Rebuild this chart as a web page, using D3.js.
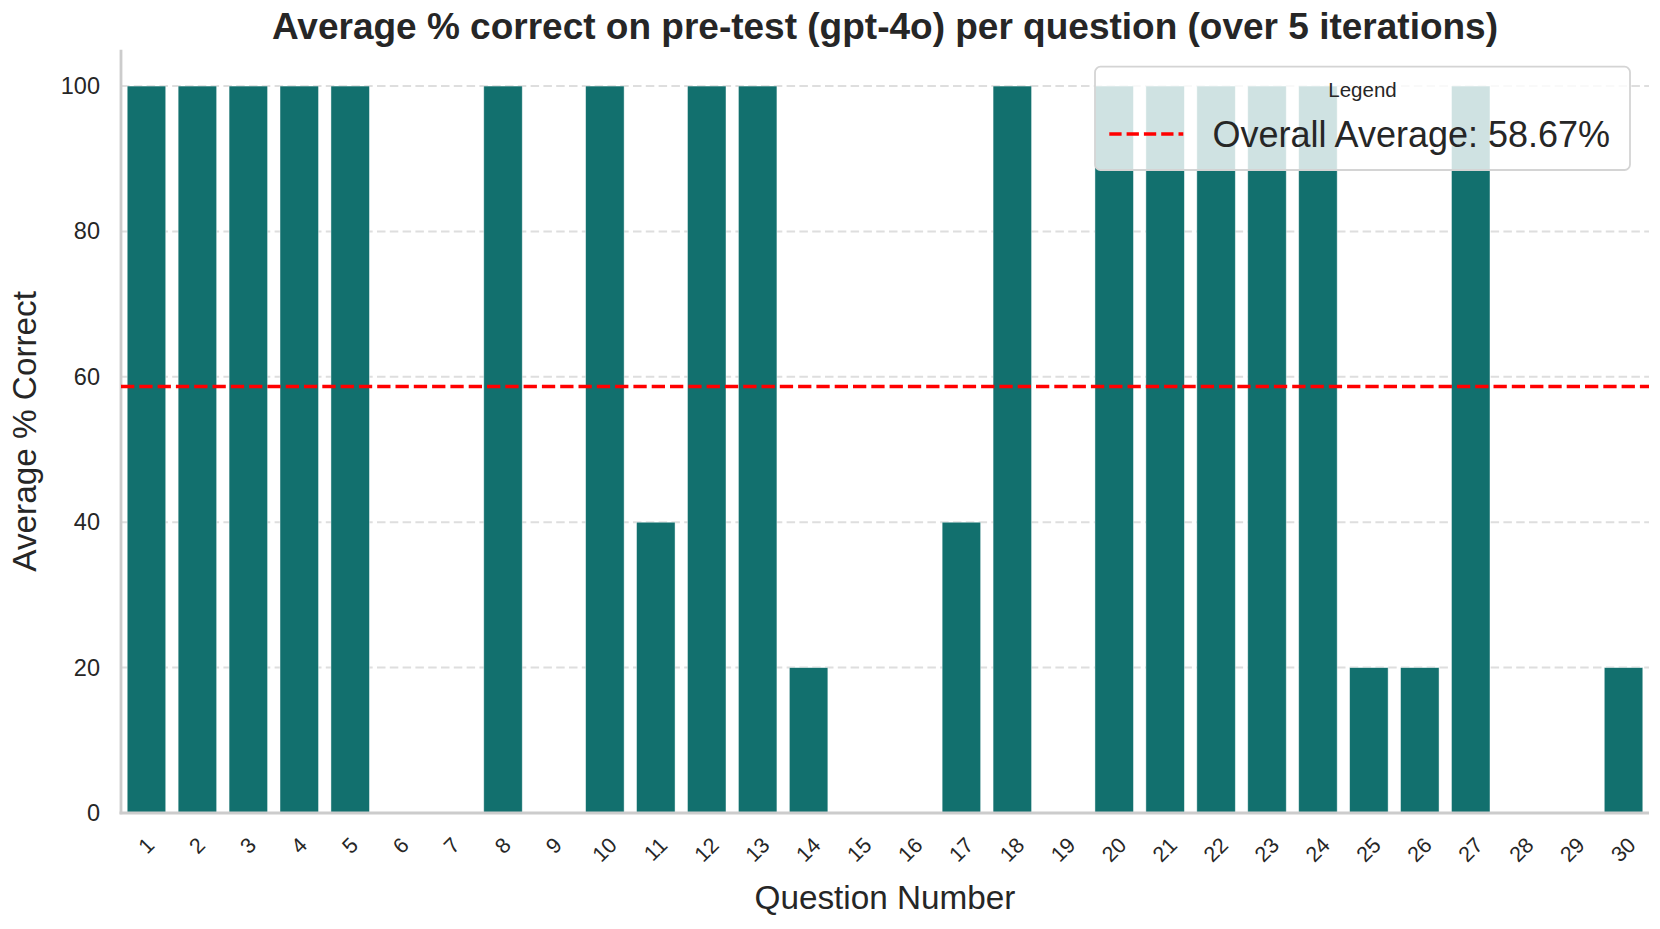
<!DOCTYPE html>
<html>
<head>
<meta charset="utf-8">
<script src="https://cdn.jsdelivr.net/npm/d3@7"></script>
<style>
  html, body { margin: 0; padding: 0; background: #fff; }
  svg { display: block; font-family: "Liberation Sans", Arial, sans-serif; }
</style>
</head>
<body>
<svg id="chart" width="1660" height="929"></svg>
<script>
const questions = ["1","2","3","4","5","6","7","8","9","10","11","12","13","14","15","16","17","18","19","20","21","22","23","24","25","26","27","28","29","30"];
const avgCorrect = [100,100,100,100,100,0,0,100,0,100,40,100,100,20,0,0,40,100,0,100,100,100,100,100,20,20,100,0,0,20];
const yTicks = [0,20,40,60,80,100];
const overallAverage = 58.67;
const titleText = "Average % correct on pre-test (gpt-4o) per question (over 5 iterations)";
const xLabel = "Question Number";
const yLabel = "Average % Correct";
const legendTitle = "Legend";
const legendLabel = "Overall Average: 58.67%";

const svg = d3.select("#chart");
const m = {left: 121, right: 1649, top: 49.7, bottom: 813};
const textColor = "#262626";

const x = d3.scaleBand().domain(questions).range([m.left, m.right]).paddingInner(0).paddingOuter(0);
const barW = x.bandwidth() * 0.756;
const y = d3.scaleLinear().domain([0, 105]).range([m.bottom, m.top]);

// gridlines
svg.append("g").selectAll("line").data(yTicks.filter(d => d > 0)).join("line")
  .attr("x1", m.left).attr("x2", m.right)
  .attr("y1", d => y(d)).attr("y2", d => y(d))
  .attr("stroke", "#dedede").attr("stroke-width", 2)
  .attr("stroke-dasharray", "8.5,4.3");

// bars
svg.append("g").selectAll("rect").data(questions.map((q, i) => ({q, v: avgCorrect[i]}))).join("rect")
  .attr("x", d => x(d.q) + (x.bandwidth() - barW) / 2)
  .attr("width", barW)
  .attr("y", d => y(d.v))
  .attr("height", d => y(0) - y(d.v))
  .attr("fill", "#12706e")
  .attr("stroke", "rgba(255,255,255,0.55)")
  .attr("stroke-width", 0.8);

// spines
svg.append("line").attr("x1", m.left).attr("x2", m.left).attr("y1", m.top).attr("y2", m.bottom + 1.2)
  .attr("stroke", "#cccccc").attr("stroke-width", 2.8);
svg.append("line").attr("x1", m.left - 1.4).attr("x2", m.right).attr("y1", m.bottom).attr("y2", m.bottom)
  .attr("stroke", "#cccccc").attr("stroke-width", 2.8);

// average line
svg.append("line").attr("x1", m.left).attr("x2", m.right)
  .attr("y1", y(overallAverage)).attr("y2", y(overallAverage))
  .attr("stroke", "#ff0000").attr("stroke-width", 3.5)
  .attr("stroke-dasharray", "13.3,5");

// y tick labels
svg.append("g").selectAll("text").data(yTicks).join("text")
  .attr("x", 100).attr("y", d => y(d))
  .attr("text-anchor", "end").attr("dominant-baseline", "central")
  .attr("font-size", 23.5).attr("fill", textColor)
  .text(d => d);

// x tick labels rotated 45
const xFont = 21.5;
const xt = svg.append("g").selectAll("text").data(questions).join("text")
  .attr("font-size", xFont).attr("fill", textColor)
  .attr("text-anchor", "middle").attr("dominant-baseline", "central")
  .text(d => d);
xt.each(function(d) {
  const w = this.getComputedTextLength();
  const h = xFont * 0.72;
  const bh = (w + h) * Math.SQRT1_2;
  const cx = x(d) + x.bandwidth() / 2;
  const cy = 836 + bh / 2;
  d3.select(this).attr("x", cx).attr("y", cy).attr("transform", `rotate(-45,${cx},${cy})`);
});

// axis labels
svg.append("text").attr("x", (m.left + m.right) / 2).attr("y", 909.3)
  .attr("text-anchor", "middle").attr("font-size", 33.3).attr("fill", textColor).text(xLabel);
svg.append("text").attr("transform", `translate(35.5,${(m.top + m.bottom) / 2}) rotate(-90)`)
  .attr("text-anchor", "middle").attr("font-size", 33.3).attr("fill", textColor).text(yLabel);

// title
svg.append("text").attr("x", (m.left + m.right) / 2).attr("y", 39.3)
  .attr("text-anchor", "middle").attr("font-size", 37).attr("font-weight", "bold")
  .attr("fill", textColor).text(titleText);

// legend
const lg = svg.append("g");
lg.append("rect").attr("x", 1095).attr("y", 66.7).attr("width", 535).attr("height", 103.3)
  .attr("rx", 5.5).attr("ry", 5.5)
  .attr("fill", "rgba(255,255,255,0.8)").attr("stroke", "#d4d4d4").attr("stroke-width", 1.8);
lg.append("text").attr("x", 1362.5).attr("y", 97.3).attr("text-anchor", "middle")
  .attr("font-size", 20.5).attr("fill", textColor).text(legendTitle);
lg.append("line").attr("x1", 1109.3).attr("x2", 1183.3).attr("y1", 134).attr("y2", 134)
  .attr("stroke", "#ff0000").attr("stroke-width", 3.5).attr("stroke-dasharray", "12.3,5");
lg.append("text").attr("x", 1212.5).attr("y", 146.7)
  .attr("font-size", 36).attr("fill", textColor).text(legendLabel);
</script>
</body>
</html>
